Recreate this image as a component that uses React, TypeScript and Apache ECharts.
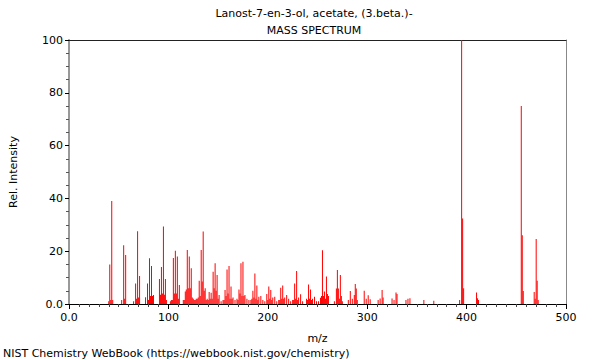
import React, { useEffect, useRef } from "react";
import * as echarts from "echarts";

const titleLine1 = "Lanost-7-en-3-ol, acetate, (3.beta.)-";
const titleLine2 = "MASS SPECTRUM";
const footer = "NIST Chemistry WebBook (https://webbook.nist.gov/chemistry)";
const xName = "m/z";
const yName = "Rel. Intensity";

const mz = [
  40, 41, 42, 43, 44,
  53, 55, 56, 57,
  65, 67, 68, 69, 70, 71,
  77, 79, 80, 81, 82, 83, 84, 85,
  91, 92, 93, 94, 95, 96, 97, 98,
  102, 103, 104, 105, 106, 107, 108, 109, 110, 111,
  115, 116, 117, 118, 119, 120, 121, 122, 123, 124, 125, 126, 127, 128, 129, 130,
  131, 132, 133, 134, 135, 136, 137, 138, 139, 140, 141, 142, 143, 144, 145, 146,
  147, 148, 149, 150, 151, 153, 155, 156, 157, 158, 159, 160, 161, 162, 163, 164,
  165, 167, 169, 170, 171, 172, 173, 174, 175, 176, 177, 179, 181, 183, 184, 185,
  186, 187, 188, 189, 190, 191, 193, 195, 197, 199, 200, 201, 202, 203, 204, 205,
  207, 209, 211, 212, 213, 214, 215, 216, 217, 219, 221, 223, 225, 226, 227, 228,
  229, 230, 231, 233, 235, 239, 240, 241, 242, 243, 244, 245, 247, 249, 251, 253,
  254, 255, 256, 257, 258, 259, 260, 261, 267, 269, 270, 271, 272, 273, 274, 275,
  281, 283, 285, 287, 288, 289, 290, 297, 299, 301, 303,
  311, 313, 315, 316, 325, 327, 329, 330, 339, 341, 343, 357, 367,
  393, 395, 396, 397, 410, 411, 412,
  455, 456, 457, 468, 469, 470, 471, 472,
];

const intensity = [
  1, 15, 1.5, 39, 1.5,
  1.5, 22.3, 2, 18.6,
  1, 7.8, 2, 27.6, 2.5, 10.6,
  2.6, 7.8, 1.5, 17.3, 3, 14.4, 3, 3.4,
  9.5, 3.5, 14, 4, 29.4, 3.5, 9.5, 1.5,
  1, 1.5, 1.5, 17.4, 4, 20.2, 4, 18, 2, 7.2,
  1.5, 1.5, 4.7, 5.5, 20.5, 6, 18, 6, 13.5, 2.5, 2, 1.5, 1.5, 2, 2, 2.5,
  8.8, 3, 20.5, 8.5, 27.5, 5, 6, 1.5, 2, 1.5, 4.5, 2, 4.3, 2, 12.2, 6,
  15.4, 5, 11, 2, 3.4, 1, 1.5, 1.5, 5.3, 3, 13.1, 4, 14.4, 2, 6.6, 2,
  2.5, 1.5, 2, 1.5, 5.5, 4, 15.4, 3, 16, 3, 3.4, 2, 1.5, 1.5, 2, 5,
  2.5, 11.6, 2, 7, 1.5, 2.7, 3, 1.5, 1, 3.8, 1.5, 6.6, 2, 5.3, 1.5, 2.5,
  2.7, 1, 1.5, 1.5, 6.2, 2, 7, 2, 2.5, 3.4, 2, 1, 1.5, 1.5, 7.8, 2,
  12.5, 1.5, 2.5, 3.7, 1, 2, 1.5, 7.4, 2, 5.5, 1.5, 2, 2.7, 1, 1, 2.4,
  3, 20.4, 3, 4.7, 2, 10.4, 3.8, 3, 1, 5.9, 12.9, 5.9, 2, 11, 3, 1,
  1.5, 4.9, 2, 3.4, 7.6, 5.9, 1.5, 5, 2, 3.3, 1.8,
  1.5, 2.1, 5.3, 2.5, 2.1, 1.5, 4.4, 3.8, 1.5, 2, 2.2, 1.5, 1.2,
  1.5, 100, 32.4, 6, 4.4, 2.2, 1.5,
  75, 26, 4.9, 4.5, 2, 24.6, 8.8, 1.5,
];

const FONT = "DejaVu Sans";

export default function App() {
  const ref = useRef<HTMLDivElement>(null);
  useEffect(() => {
    if (!ref.current) return;
    const chart = echarts.init(ref.current, undefined, { renderer: "svg" });
    const data = mz.map((m, i) => [m, intensity[i]]);
    const fmt = (v: number) => (v === 0 ? "0.0" : String(v));
    chart.setOption({
      animation: false,
      backgroundColor: "#ffffff",
      grid: { left: 62, right: 34, top: 40, bottom: 56 },
      graphic: [
        {
          type: "text",
          x: 314,
          y: 13,
          style: {
            text: titleLine1,
            textAlign: "center",
            textVerticalAlign: "middle",
            font: `11px '${FONT}'`,
            fill: "#000",
          },
        },
        {
          type: "text",
          x: 314,
          y: 30,
          style: {
            text: titleLine2,
            textAlign: "center",
            textVerticalAlign: "middle",
            font: `11px '${FONT}'`,
            fill: "#000",
          },
        },
        {
          type: "text",
          x: 3,
          y: 353,
          style: {
            text: footer,
            textAlign: "left",
            textVerticalAlign: "middle",
            font: `11px '${FONT}'`,
            fill: "#000",
          },
        },
      ],
      xAxis: [
        {
          type: "value",
          min: 0,
          max: 500,
          interval: 100,
          name: xName,
          nameLocation: "middle",
          nameGap: 29,
          nameTextStyle: { fontFamily: FONT, fontSize: 11, color: "#000" },
          axisLine: { show: true, onZero: false, lineStyle: { color: "#000", width: 1 } },
          axisTick: { show: true, length: 5, lineStyle: { color: "#000" } },
          minorTick: { show: true, splitNumber: 10, length: 3, lineStyle: { color: "#444" } },
          axisLabel: { formatter: fmt, fontFamily: FONT, fontSize: 11, color: "#000", margin: 8 },
          splitLine: { show: false },
        },
        {
          type: "value",
          position: "top",
          min: 0,
          max: 500,
          axisLine: { show: true, onZero: false, lineStyle: { color: "#222", width: 1 } },
          axisTick: { show: false },
          axisLabel: { show: false },
          splitLine: { show: false },
        },
      ],
      yAxis: [
        {
          type: "value",
          min: 0,
          max: 100,
          interval: 20,
          name: yName,
          nameLocation: "middle",
          nameGap: 50,
          nameRotate: 90,
          nameTextStyle: { fontFamily: FONT, fontSize: 11, color: "#000" },
          axisLine: { show: true, onZero: false, lineStyle: { color: "#999", width: 2 } },
          axisTick: { show: true, length: 4, lineStyle: { color: "#000" } },
          minorTick: { show: true, splitNumber: 4, length: 3, lineStyle: { color: "#555" } },
          axisLabel: { formatter: fmt, fontFamily: FONT, fontSize: 11, color: "#000", margin: 6 },
          splitLine: { show: false },
        },
        {
          type: "value",
          position: "right",
          min: 0,
          max: 100,
          axisLine: { show: true, onZero: false, lineStyle: { color: "#888", width: 1 } },
          axisTick: { show: false },
          axisLabel: { show: false },
          splitLine: { show: false },
        },
      ],
      series: [
        {
          type: "custom",
          xAxisIndex: 0,
          yAxisIndex: 0,
          data,
          encode: { x: 0, y: 1 },
          renderItem: (params: any, api: any) => {
            const x = api.value(0);
            const y = api.value(1);
            const p0 = api.coord([x, 0]);
            const p1 = api.coord([x, y]);
            return {
              type: "rect",
              shape: { x: p0[0] - 0.5, y: p1[1], width: 1, height: p0[1] - p1[1] },
              style: { fill: "#ff0000" },
            };
          },
        },
      ],
    });
    return () => chart.dispose();
  }, []);
  return (
    <div
      ref={ref}
      style={{ position: "fixed", left: 0, top: 0, width: 600, height: 360, background: "#fff" }}
    />
  );
}
